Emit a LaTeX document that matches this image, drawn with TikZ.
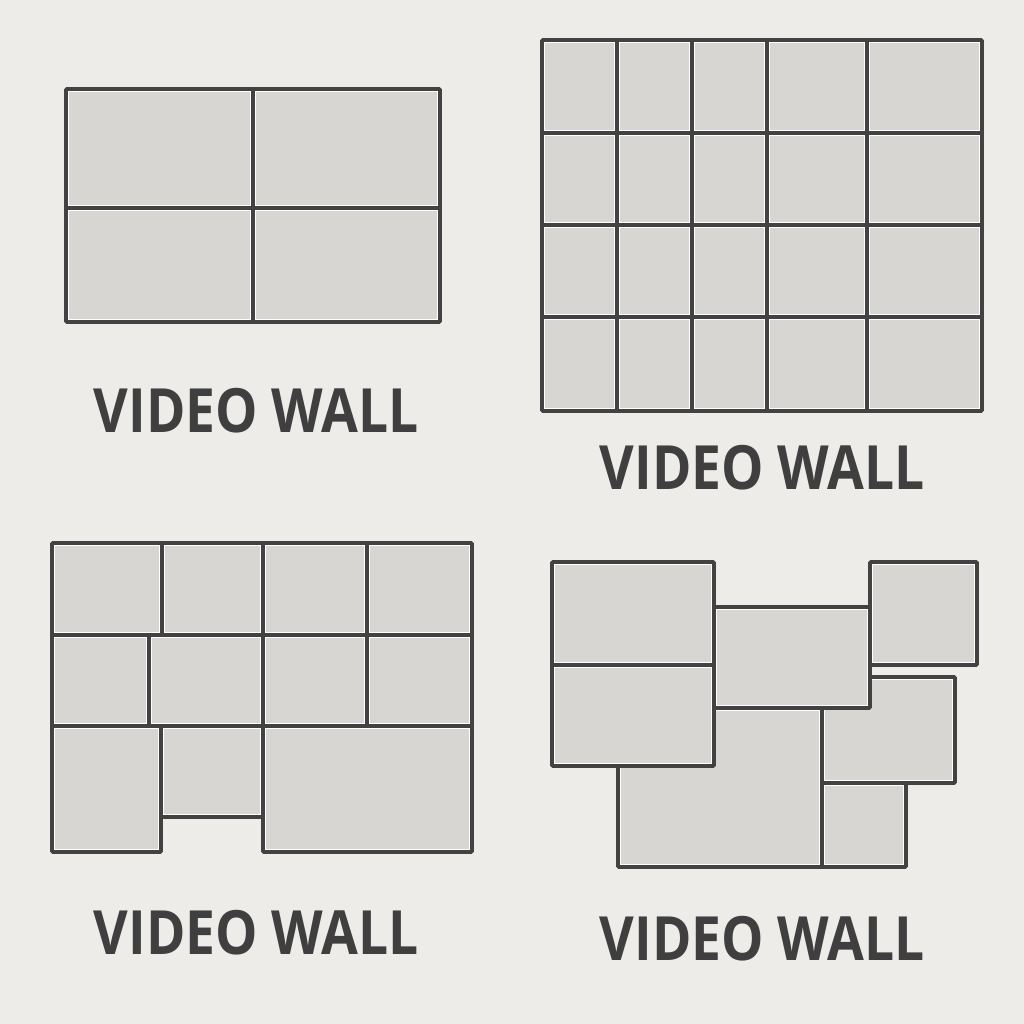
\documentclass[tikz,border=0pt]{standalone}
\usepackage{fontspec}
\setmainfont{Open Sans}
\usetikzlibrary{calc}
\definecolor{bgc}{HTML}{EDECE8}
\definecolor{cellc}{HTML}{D7D6D2}
\definecolor{edgec}{HTML}{424242}
\definecolor{textc}{HTML}{3F3F3F}
\tikzset{
  cellbox/.style={fill=cellc, draw=edgec, line width=3.6pt, rounded corners=1pt},
  hilite/.style={draw=white, line width=0.9pt},
  walllabel/.style={anchor=base, text=textc, xscale=0.875, font=\fontsize{61}{61}\selectfont\bfseries, inner sep=0pt}
}
\newcommand\vwcell[4]{%
  \path[cellbox] (#1,#2) rectangle (#3,#4);
  \path[hilite] ($(#1,#2)+(2.9,2.9)$) rectangle ($(#3,#4)+(-2.9,-2.9)$);
}
\begin{document}
\begin{tikzpicture}[x=1pt,y=-1pt]
\fill[bgc] (0,0) rectangle (1024,1024);
\useasboundingbox (0,0) rectangle (1024,1024);
% Panel 1: 2x2
\foreach \xa/\xb in {66/253,253/440}{
  \foreach \ya/\yb in {89/208,208/322}{
    \vwcell{\xa}{\ya}{\xb}{\yb}
  }
}
% Panel 2: 5x4 grid
\foreach \xa/\xb in {542/617,617/692,692/767,767/867,867/982}{
  \foreach \ya/\yb in {40/133,133/225,225/317,317/411}{
    \vwcell{\xa}{\ya}{\xb}{\yb}
  }
}
% Panel 3
\vwcell{52}{543}{162}{635}
\vwcell{162}{543}{263}{635}
\vwcell{263}{543}{367}{635}
\vwcell{367}{543}{472}{635}
\vwcell{52}{635}{149}{726}
\vwcell{149}{635}{263}{726}
\vwcell{263}{635}{367}{726}
\vwcell{367}{635}{472}{726}
\vwcell{52}{726}{161}{852}
\vwcell{161}{726}{263}{817}
\vwcell{263}{726}{472}{852}
% Panel 4
\vwcell{618}{708}{822}{867}
\vwcell{822}{677}{955}{783}
\vwcell{822}{783}{906}{867}
\vwcell{552}{562}{714}{665}
\vwcell{552}{665}{714}{766}
\vwcell{714}{607}{870}{708}
\vwcell{870}{562}{977}{665}
% Labels
\node[walllabel] (l1) at (256,432) {VIDEO WALL};
\node[walllabel] (l2) at (762,489) {VIDEO WALL};
\node[walllabel] (l3) at (256,954) {VIDEO WALL};
\node[walllabel] (l4) at (762,960) {VIDEO WALL};
\end{tikzpicture}
\end{document}
